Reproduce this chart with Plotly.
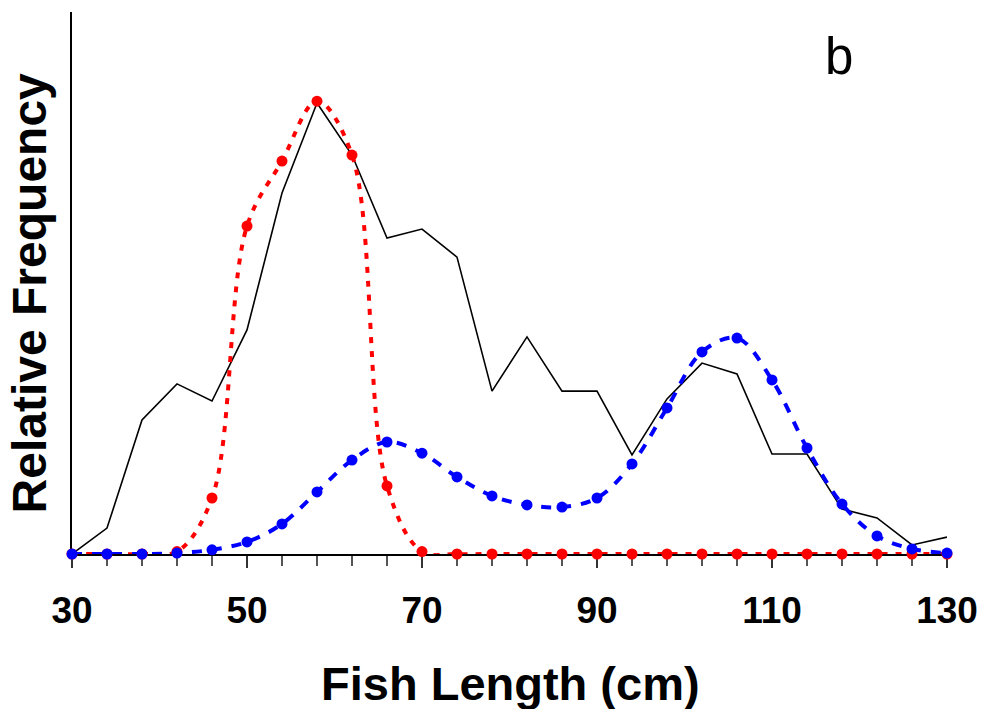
import plotly.graph_objects as go

# Fish length classes (cm)
lengths = [30, 34, 38, 42, 46, 50, 54, 58, 62, 66, 70, 74, 78, 82, 86, 90,
           94, 98, 102, 106, 110, 114, 118, 122, 126, 130]

# Observed relative frequency (black solid line)
observed = [0.00, 0.86, 4.45, 5.65, 5.08, 7.44, 11.99, 14.98, 13.25, 10.49,
            10.79, 9.86, 5.41, 7.21, 5.41, 5.41, 3.29, 5.15, 6.34, 5.98,
            3.32, 3.32, 1.49, 1.20, 0.30, 0.56]

# Component 1 (red dotted)
comp1 = [0.00, 0.00, 0.00, 0.08, 1.86, 10.89, 13.05, 15.04, 13.25, 2.26,
         0.08, 0.00, 0.00, 0.00, 0.00, 0.00, 0.00, 0.00, 0.00, 0.00,
         0.00, 0.00, 0.00, 0.00, 0.00, 0.00]

# Component 2 (blue dashed)
comp2 = [0.00, 0.00, 0.00, 0.03, 0.14, 0.40, 1.00, 2.06, 3.12, 3.72,
         3.35, 2.56, 1.93, 1.63, 1.56, 1.86, 2.99, 4.85, 6.71, 7.17,
         5.78, 3.52, 1.66, 0.60, 0.17, 0.03]

tick_vals = [30, 50, 70, 90, 110, 130]
tick_text = ["30", "50", "70", "90", "110", "130"]

L, R, T, B = 72, 35, 12, 155
W, H = 990, 709
PW, PH = W - L - R, H - T - B

fig = go.Figure()

fig.add_trace(go.Scatter(
    x=lengths, y=observed, mode="lines",
    line=dict(color="black", width=1.6),
    cliponaxis=False, showlegend=False))

fig.add_trace(go.Scatter(
    x=lengths, y=comp1, mode="lines+markers",
    line=dict(color="#ff0000", width=4, dash="6px,8px", shape="spline"),
    marker=dict(color="#ff0000", size=11, line=dict(width=0)),
    cliponaxis=False, showlegend=False))

fig.add_trace(go.Scatter(
    x=lengths, y=comp2, mode="lines+markers",
    line=dict(color="#0000ff", width=4, dash="10px,10px", shape="spline"),
    marker=dict(color="#0000ff", size=11, line=dict(width=0)),
    cliponaxis=False, showlegend=False))

fig.update_layout(
    width=W, height=H,
    margin=dict(l=L, r=R, t=T, b=B),
    paper_bgcolor="white", plot_bgcolor="white",
    font=dict(family="Liberation Sans, Arial, sans-serif", color="black"),
    xaxis=dict(
        range=[30, 130], showgrid=False, zeroline=False,
        showline=True, linecolor="black", linewidth=1.5,
        tickmode="array", tickvals=tick_vals, ticktext=tick_text,
        ticks="outside", ticklen=12, tickwidth=1.5, tickcolor="#333333",
        tickfont=dict(size=37, family="Liberation Sans, Arial, sans-serif", weight="bold"),
        ticklabelstandoff=11,
        minor=dict(tickmode="linear", tick0=30, dtick=4, ticks="outside",
                   ticklen=10, tickwidth=1.5, tickcolor="#555555"),
        layer="below traces",
    ),
    yaxis=dict(
        range=[0, 18], showgrid=False, zeroline=False,
        showline=True, linecolor="black", linewidth=1.5,
        showticklabels=False, ticks="",
        layer="below traces",
    ),
    annotations=[
        dict(text="<b>Fish Length (cm)</b>", xref="paper", yref="paper",
             x=(515 - L) / PW, y=(554 - 683) / PH, xanchor="center", yanchor="middle",
             showarrow=False, font=dict(size=47)),
        dict(text="<b>Relative Frequency</b>", xref="paper", yref="paper",
             x=(29 - L) / PW, y=(554 - 293) / PH, xanchor="center", yanchor="middle",
             textangle=-90, showarrow=False, font=dict(size=48)),
        dict(text="b", xref="paper", yref="paper",
             x=(846 - L) / PW, y=(554 - 57) / PH, xanchor="center", yanchor="middle",
             showarrow=False, font=dict(size=51)),
    ],
)

fig.write_html("out.html")
